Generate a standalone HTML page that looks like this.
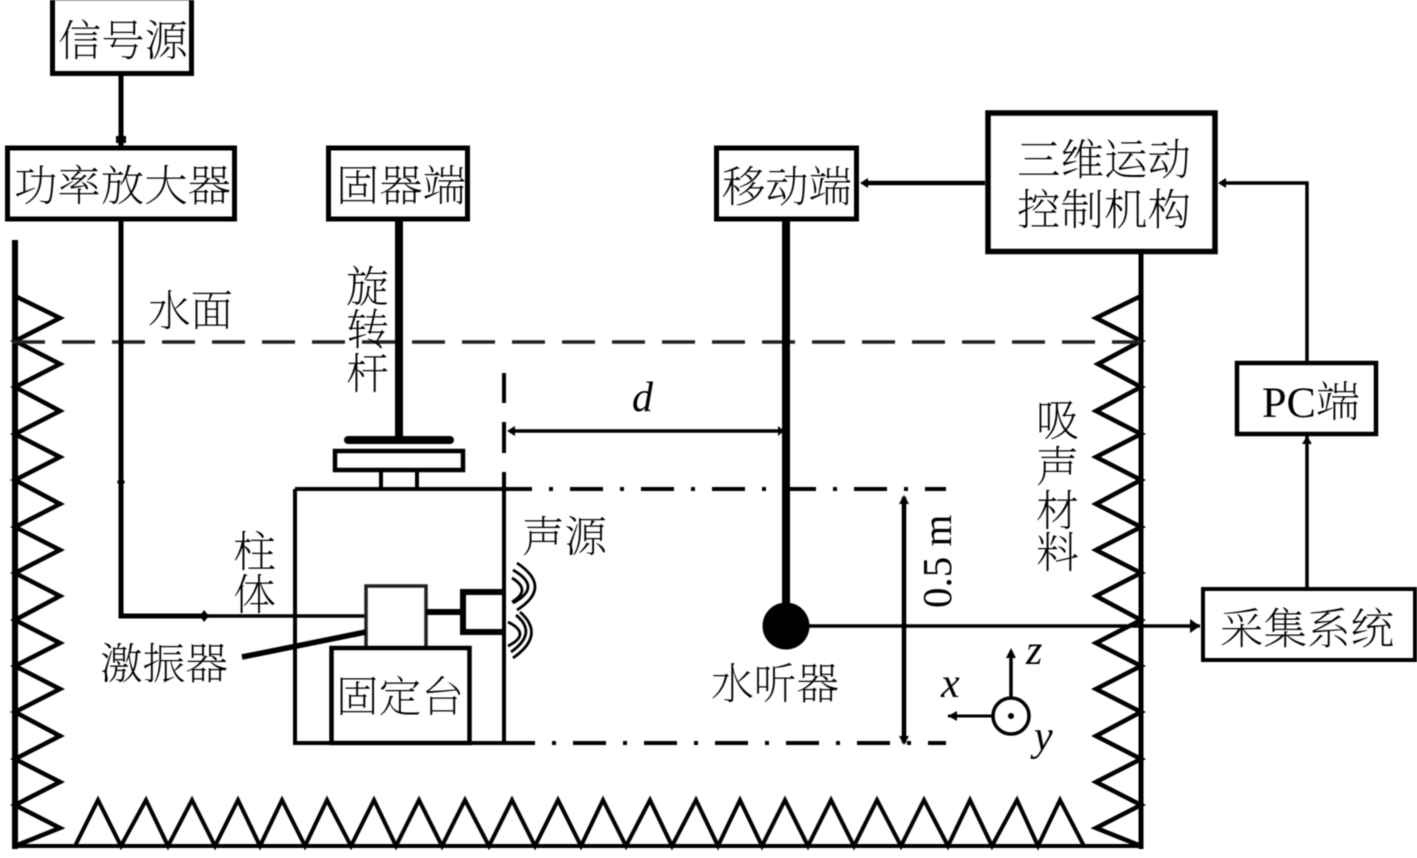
<!DOCTYPE html>
<html><head><meta charset="utf-8"><style>
html,body{margin:0;padding:0;background:#fff}
svg{display:block;filter:blur(.4px)}
text{font-family:"Liberation Serif","Noto Serif CJK SC",serif;fill:#000}
.c{font-size:43px;font-weight:200}
.i{font-style:italic;font-size:42px}
</style></head><body>
<svg width="1417" height="858" viewBox="0 0 1417 858" xmlns="http://www.w3.org/2000/svg">
<rect width="1417" height="858" fill="#fff"/>
<g fill="none" stroke="#000" stroke-linejoin="miter">
<!-- walls -->
<path d="M15 240V849" stroke-width="6"/>
<path d="M1141 254V849" stroke-width="5"/>
<path d="M13 846H1143" stroke-width="4"/>
<!-- zigzags -->
<path stroke-width="4.5" d="M15 296L60 318L15 341L60 364L15 387L60 411L15 434L60 457L15 480L60 504L15 527L60 550L15 573L60 596L15 620L60 643L15 666L60 689L15 712L60 736L15 759L60 782L15 805L60 828L15 846"/>
<path stroke-width="4.5" d="M1141 296L1096 318L1141 341L1098 364L1141 387L1096 411L1141 434L1096 457L1141 480L1096 504L1141 527L1096 550L1141 573L1096 596L1141 620L1096 643L1141 666L1096 689L1141 712L1096 736L1141 759L1096 782L1141 805L1096 828L1141 846"/>
<path stroke-width="4" d="M75 846L98 800L121 846L146 800L168 846L192 800L215 846L238 800L260 846L282 800L305 846L327 800L351 846L374 800L396 846L419 800L442 846L465 800L489 846L512 800L535 846L558 800L581 846L603 800L626 846L650 800L672 846L696 800L718 846L740 800L762 846L785 800L808 846L831 800L854 846L877 800L901 846L924 800L948 846L970 800L992 846L1017 800L1038 846L1060 800L1084 846"/>
<!-- water line -->
<path d="M12 342H1141" stroke="#222" stroke-width="3.5" stroke-dasharray="33 17"/>
<!-- boxes -->
<rect x="52.5" y="-2" width="139" height="75.500" stroke-width="5"/>
<rect x="7.500" y="148" width="227" height="71" stroke-width="5"/>
<rect x="328.500" y="148" width="139" height="71" stroke-width="5"/>
<rect x="716.500" y="148" width="140" height="71" stroke-width="5"/>
<rect x="988" y="113" width="227" height="138.500" stroke-width="5.500"/>
<rect x="1237" y="363" width="139" height="71" stroke-width="4.500"/>
<rect x="1203" y="589" width="212" height="71" stroke-width="4"/>
<!-- connectors -->
<path d="M121 76V146" stroke-width="5"/>
<path d="M121 221V616H204" stroke-width="5"/>
<path d="M204 616H365" stroke-width="3.500"/>
<path d="M399 221V437" stroke-width="8"/>
<path d="M786 221V605" stroke-width="8"/>
<path d="M348 440H450" stroke-width="8" stroke-linecap="round"/>
<rect x="335" y="451" width="128" height="19" stroke-width="4.500"/>
<path d="M381 471V489M417 471V489" stroke-width="4"/>
<!-- column -->
<path d="M295 489H505M295 489V743H505" stroke-width="4"/>
<path d="M504 373V403M504 422V453M504 472V743" stroke-width="4"/>
<path d="M499 489H946" stroke-width="4" stroke-dasharray="33 17 4 17"/>
<path d="M502 743H946" stroke-width="4" stroke-dasharray="33 17 4 17"/>
<!-- exciter and stand -->
<rect x="366" y="586" width="60" height="62" stroke="#222" stroke-width="3.500"/>
<rect x="331.500" y="648" width="138" height="95" stroke-width="4.500"/>
<path d="M426 612H462" stroke-width="6"/>
<path d="M504 592H463V632H504" stroke-width="6"/>
<path d="M242 657L366 632" stroke-width="5.500"/>
<!-- waves -->
<path stroke-width="2.800" d="M517 563Q553 587 517 610M513 570Q543 587 513 603M512 578Q532 590 512 602M520 612Q546 635 513 658M516 615Q538 633 511 652M508 622Q532 634 508 646"/>
<!-- dimensions -->
<path d="M510 431H783" stroke-width="3.500"/>
<path d="M904 497V743" stroke-width="4.500"/>
<path d="M808 626H1200" stroke-width="3.500"/>
<path d="M1307 587V436" stroke-width="3.500"/>
<path d="M1307 361V183H1222" stroke-width="3.500"/>
<path d="M985 183H864" stroke-width="4.500"/>
<!-- axes -->
<circle cx="1011" cy="716" r="18" stroke-width="3.500"/>
<path d="M1011 697V655" stroke-width="3.500"/>
<path d="M993 716H948" stroke-width="3"/>
</g>
<g fill="#000" stroke="none">
<circle cx="786" cy="626" r="23.500"/>
<circle cx="1011" cy="716" r="3"/>
<path d="M116 136H126V143H116Z"/>
<path d="M121 476L125 482L121 488L117 482Z"/>
<path d="M204 610L209 616L204 622L200 616Z"/>
<path d="M1200 626L1190 619V633Z"/>
<path d="M860 183L868 178V188Z"/>
<path d="M1218 183L1226 178V188Z"/>
<path d="M1307 436L1302 444H1312Z"/>
<path d="M507 431L515 426V436Z"/>
<path d="M784 431L778 426V436Z"/>
<path d="M904 495L899 504H909Z"/>
<path d="M904 745L899 736H909Z"/>
<path d="M1011 648L1006 658H1016Z"/>
<path d="M948 716L957 711V721Z"/>
</g>
<!-- labels -->
<text class="c" x="58" y="56" textLength="130" lengthAdjust="spacingAndGlyphs">信号源</text>
<text class="c" x="14" y="201" textLength="217" lengthAdjust="spacingAndGlyphs">功率放大器</text>
<text class="c" x="336" y="201" textLength="130" lengthAdjust="spacingAndGlyphs">固器端</text>
<text class="c" x="722" y="202" textLength="130" lengthAdjust="spacingAndGlyphs">移动端</text>
<text class="c" x="1017" y="175" textLength="174" lengthAdjust="spacingAndGlyphs">三维运动</text>
<text class="c" x="1017" y="225" textLength="174" lengthAdjust="spacingAndGlyphs">控制机构</text>
<text class="c" x="1262" y="417" textLength="98" lengthAdjust="spacingAndGlyphs">PC端</text>
<text class="c" x="1220" y="644" textLength="174" lengthAdjust="spacingAndGlyphs">采集系统</text>
<text class="c" x="148" y="326" textLength="85" lengthAdjust="spacingAndGlyphs">水面</text>
<text class="c" x="346" y="302">旋</text>
<text class="c" x="346" y="345">转</text>
<text class="c" x="346" y="389">杆</text>
<text class="c" x="1036" y="436">吸</text>
<text class="c" x="1036" y="482">声</text>
<text class="c" x="1036" y="526">材</text>
<text class="c" x="1036" y="568">料</text>
<text class="c" x="233" y="567">柱</text>
<text class="c" x="233" y="610">体</text>
<text class="c" x="100" y="679" textLength="128" lengthAdjust="spacingAndGlyphs">激振器</text>
<text class="c" x="336" y="712" textLength="128" lengthAdjust="spacingAndGlyphs">固定台</text>
<text class="c" x="522" y="552" textLength="85" lengthAdjust="spacingAndGlyphs">声源</text>
<text class="c" x="711" y="699" textLength="128" lengthAdjust="spacingAndGlyphs">水听器</text>
<text class="i" x="632" y="411">d</text>
<text class="i" x="1026" y="664">z</text>
<text class="i" x="941" y="697">x</text>
<text class="i" x="1034" y="750">y</text>
<text x="951" y="608" font-size="41" transform="rotate(-90 951 608)">0.5 m</text>
</svg>
</body></html>
